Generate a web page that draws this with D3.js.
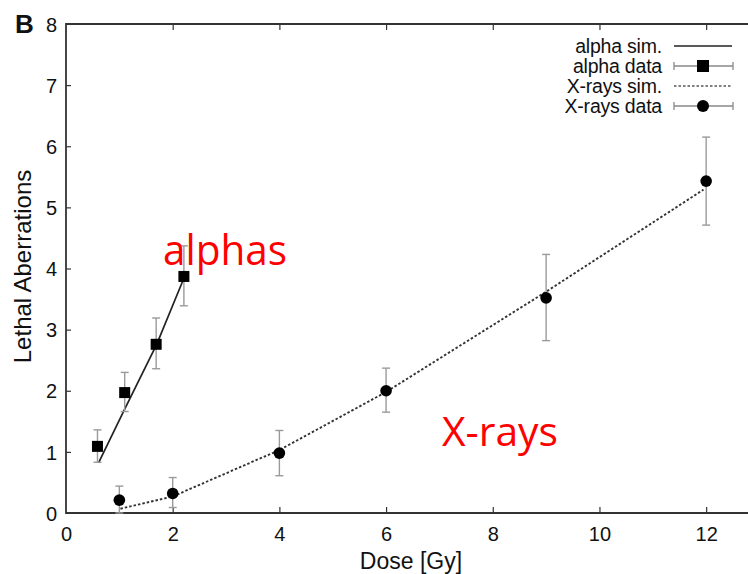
<!DOCTYPE html>
<html>
<head>
<meta charset="utf-8">
<script src="https://cdn.jsdelivr.net/npm/d3@7"></script>
<style>
  body { margin: 0; background: #fff; }
  svg { display: block; font-family: "Liberation Sans", Arial, sans-serif; }
</style>
</head>
<body>
<div id="chart"></div>
<script>
// alpha data (dose, value, error low, error high)
const alphaDose = [0.59, 1.10, 1.69, 2.21];
const alphaVal  = [1.09, 1.97, 2.76, 3.87];
const alphaLow  = [0.83, 1.66, 2.36, 3.39];
const alphaHigh = [1.36, 2.30, 3.19, 4.37];

// alpha simulation
const alphaSimDose = [0.61, 1.10, 1.70, 2.20];
const alphaSimVal  = [0.82, 1.70, 2.76, 3.82];

// X-ray data
const xrayDose = [1, 2, 4, 6, 9, 12];
const xrayVal  = [0.21, 0.32, 0.98, 2.0, 3.52, 5.43];
const xrayLow  = [0.0, 0.09, 0.61, 1.65, 2.82, 4.71];
const xrayHigh = [0.44, 0.58, 1.35, 2.37, 4.23, 6.15];

// X-ray simulation
const xraySimDose = [1.02, 2, 4, 6, 9, 11.95];
const xraySimVal  = [0.07, 0.27, 1.03, 1.98, 3.62, 5.29];

const xTicks = [0, 2, 4, 6, 8, 10, 12];
const yTicks = [0, 1, 2, 3, 4, 5, 6, 7, 8];
const legendLabels = ["alpha sim.", "alpha data", "X-rays sim.", "X-rays data"];

const W = 748, H = 574;
const svg = d3.select("#chart").append("svg").attr("width", W).attr("height", H);

const x = d3.scaleLinear().domain([0, 13]).range([66, 759.5]);
const y = d3.scaleLinear().domain([0, 8]).range([513, 24]);

const axisColor = "#333";

// frame (top, left, bottom); the right edge falls outside the picture
svg.append("path")
  .attr("d", `M${x(13)},${y(8)}H${x(0)}V${y(0)}H${x(13)}`)
  .attr("fill", "none").attr("stroke", axisColor).attr("stroke-width", 1.8);

// inward ticks
const bottomAxis = svg.append("g").attr("transform", `translate(0,${y(0)})`)
  .call(d3.axisBottom(x).tickValues(xTicks).tickSize(-6).tickPadding(14));
const topAxis = svg.append("g").attr("transform", `translate(0,${y(8)})`)
  .call(d3.axisTop(x).tickValues(xTicks.filter(d => d > 0)).tickSize(-6).tickFormat(""));
const leftAxis = svg.append("g").attr("transform", `translate(${x(0)},0)`)
  .call(d3.axisLeft(y).tickValues(yTicks).tickSize(-5).tickPadding(9));

[bottomAxis, topAxis, leftAxis].forEach(g => {
  g.select(".domain").remove();
  g.selectAll(".tick line").attr("stroke", axisColor).attr("stroke-width", 1.2);
  g.selectAll(".tick text").attr("fill", "#111").attr("font-size", 20);
});
leftAxis.selectAll(".tick text").attr("dy", "0.36em");
bottomAxis.selectAll(".tick text").attr("dy", "0.71em");
leftAxis.selectAll(".tick").filter(d => d === 0 || d === 8).select("line").remove();
bottomAxis.selectAll(".tick").filter(d => d === 0).select("line").remove();

// axis titles
svg.append("text")
  .attr("x", 411).attr("y", 569)
  .attr("text-anchor", "middle").attr("font-size", 23).attr("fill", "#111")
  .text("Dose [Gy]");
svg.append("text")
  .attr("transform", `translate(31,${y(4) - 2}) rotate(-90)`)
  .attr("text-anchor", "middle").attr("font-size", 24).attr("fill", "#111")
  .text("Lethal Aberrations");

// panel letter
svg.append("text")
  .attr("x", 15).attr("y", 33)
  .attr("font-size", 26).attr("font-weight", "bold").attr("fill", "#111")
  .text("B");

const line = d3.line().x(d => x(d[0])).y(d => y(d[1]));

// simulation lines
svg.append("path")
  .datum(d3.zip(alphaSimDose, alphaSimVal))
  .attr("d", line)
  .attr("fill", "none").attr("stroke", "#222").attr("stroke-width", 1.7);
svg.append("path")
  .datum(d3.zip(xraySimDose, xraySimVal))
  .attr("d", line)
  .attr("fill", "none").attr("stroke", "#333").attr("stroke-width", 1.9)
  .attr("stroke-dasharray", "2.5,2");

// error bars
function errorBars(dose, low, high) {
  const g = svg.append("g").attr("stroke", "#9a9a9a").attr("stroke-width", 1.4);
  dose.forEach((d, i) => {
    const cx = x(d);
    g.append("line").attr("x1", cx).attr("x2", cx).attr("y1", y(low[i])).attr("y2", y(high[i]));
    g.append("line").attr("x1", cx - 4).attr("x2", cx + 4).attr("y1", y(low[i])).attr("y2", y(low[i]));
    g.append("line").attr("x1", cx - 4).attr("x2", cx + 4).attr("y1", y(high[i])).attr("y2", y(high[i]));
  });
}
errorBars(alphaDose, alphaLow, alphaHigh);
errorBars(xrayDose, xrayLow, xrayHigh);

// markers
svg.append("g").selectAll("rect")
  .data(d3.zip(alphaDose, alphaVal))
  .join("rect")
  .attr("x", d => x(d[0]) - 5.5).attr("y", d => y(d[1]) - 5.5)
  .attr("width", 11).attr("height", 11).attr("fill", "#000");
svg.append("g").selectAll("circle")
  .data(d3.zip(xrayDose, xrayVal))
  .join("circle")
  .attr("cx", d => x(d[0])).attr("cy", d => y(d[1]))
  .attr("r", 5.8).attr("fill", "#000");

// legend
const legend = svg.append("g");
legendLabels.forEach((label, i) => {
  const ly = 46 + i * 20;
  const row = legend.append("g").attr("transform", `translate(0,${ly})`);
  row.append("text")
    .attr("x", 662).attr("y", 0).attr("dy", "0.35em")
    .attr("text-anchor", "end").attr("font-size", 19.5).attr("fill", "#111")
    .attr("letter-spacing", -0.2)
    .text(label);
  if (i === 0) {
    row.append("line").attr("x1", 674).attr("x2", 732).attr("y1", 0).attr("y2", 0)
      .attr("stroke", "#222").attr("stroke-width", 1.7);
  } else if (i === 2) {
    row.append("line").attr("x1", 674).attr("x2", 732).attr("y1", 0).attr("y2", 0)
      .attr("stroke", "#555").attr("stroke-width", 1.7).attr("stroke-dasharray", "2.5,2");
  } else {
    row.append("line").attr("x1", 674).attr("x2", 733).attr("y1", 0).attr("y2", 0)
      .attr("stroke", "#888").attr("stroke-width", 1.3);
    [674, 733].forEach(cx => row.append("line").attr("x1", cx).attr("x2", cx)
      .attr("y1", -4).attr("y2", 4).attr("stroke", "#888").attr("stroke-width", 1.3));
    if (i === 1) {
      row.append("rect").attr("x", 697).attr("y", -6).attr("width", 12).attr("height", 12).attr("fill", "#000");
    } else {
      row.append("circle").attr("cx", 703).attr("cy", 0).attr("r", 6).attr("fill", "#000");
    }
  }
});

// annotations
svg.append("text")
  .attr("x", 163).attr("y", 265)
  .attr("font-family", "'Open Sans', 'Noto Sans', sans-serif")
  .attr("font-size", 42).attr("fill", "#ff0000")
  .attr("textLength", 124).attr("lengthAdjust", "spacingAndGlyphs")
  .text("alphas");
svg.append("text")
  .attr("x", 442).attr("y", 446)
  .attr("font-family", "'Open Sans', 'Noto Sans', sans-serif")
  .attr("font-size", 40).attr("fill", "#ff0000")
  .attr("textLength", 116).attr("lengthAdjust", "spacingAndGlyphs")
  .text("X-rays");
</script>
</body>
</html>
